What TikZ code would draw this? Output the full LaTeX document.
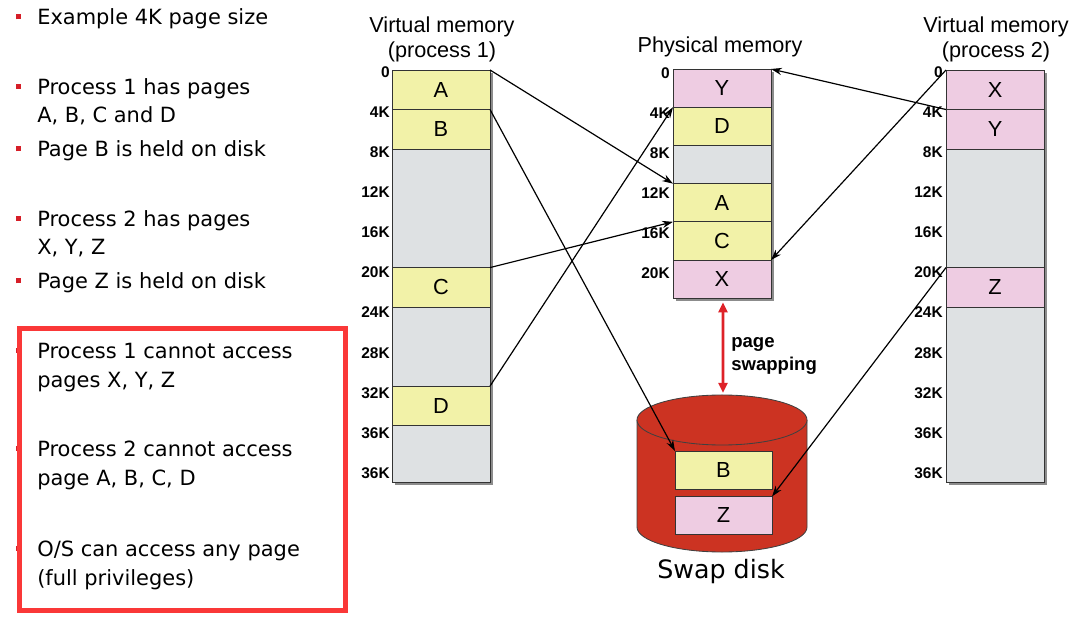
\documentclass[tikz,border=0pt]{standalone}
\usepackage{fontspec}
\setmainfont{Liberation Sans}
\newfontfamily\notefont{DejaVu Sans}
\usetikzlibrary{positioning,arrows.meta,backgrounds}

\definecolor{pageyellow}{RGB}{242,242,168}
\definecolor{pagepink}{RGB}{238,204,226}
\definecolor{pagegrey}{RGB}{222,225,227}
\definecolor{diskred}{RGB}{204,51,34}
\definecolor{swapred}{RGB}{222,34,40}
\definecolor{framered}{RGB}{250,56,56}
\definecolor{bulletred}{RGB}{214,30,40}

\tikzset{
  cell/.style={draw=black!80, line width=0.6pt, minimum width=2.45cm, minimum height=0.9875cm,
    inner sep=0pt, outer sep=0pt, font=\fontsize{15.5}{18}\selectfont},
  yel/.style={cell, fill=pageyellow},
  pink/.style={cell, fill=pagepink},
  free/.style={cell, fill=pagegrey},
  frame/.style={minimum height=0.955cm},
  tick/.style={anchor=east, inner sep=0pt, font=\fontsize{11}{12}\selectfont\bfseries},
  title/.style={align=center, inner sep=0pt, font=\fontsize{15.4}{17.8}\selectfont},
  map/.style={-{Stealth[length=0.27cm,width=0.18cm]}, line width=0.85pt},
  swaparrow/.style={{Triangle[length=0.25cm,width=0.22cm]}-{Triangle[length=0.25cm,width=0.22cm]},
    draw=swapred, line width=2.1pt},
  note/.style={anchor=base west, align=left, inner sep=0pt, font=\notefont\fontsize{14.9}{20.3}\selectfont},
  colshadow/.style={fill=black!45}
}
\newcommand{\bul}{\llap{{\color{bulletred}\rule[0.27em]{0.125cm}{0.125cm}}\hspace{0.4cm}}}

\begin{document}
\begin{tikzpicture}[x=0.025cm, y=-0.025cm]
\useasboundingbox (0,0) rectangle (1081,623);

% left hand notes (anchored on the last line)
\node[note] (n1) at (37,25) {\bul Example 4K page size};
\node[note] (n2) at (37,123) {\bul Process 1 has pages\\A, B, C and D};
\node[note] (n3) at (37,157) {\bul Page B is held on disk};
\node[note] (n4) at (37,255) {\bul Process 2 has pages\\X, Y, Z};
\node[note] (n5) at (37,289) {\bul Page Z is held on disk};
\node[note] (n6) at (37,387) {\bul Process 1 cannot access\\pages X, Y, Z};
\node[note] (n7) at (37,485) {\bul Process 2 cannot access\\page A, B, C, D};
\node[note] (n8) at (37,585) {\bul O/S can access any page\\(full privileges)};
\draw[framered, line width=3.55pt] (19.5,328.5) rectangle (345.5,610.5);

% virtual memory, process 1
\node[title, anchor=south] (v1title) at (442,62) {Virtual memory\\(process 1)};
\node[yel, anchor=north west] (p1A) at (392,70) {A};
\node[yel, below=0pt of p1A] (p1B) {B};
\node[free, below=0pt of p1B, minimum height=2.9625cm] (p1E1) {};
\node[yel, below=0pt of p1E1] (p1C) {C};
\node[free, below=0pt of p1C, minimum height=1.975cm] (p1E2) {};
\node[yel, below=0pt of p1E2] (p1D) {D};
\node[free, below=0pt of p1D, minimum height=1.4125cm] (p1E3) {};

% physical memory
\node[title, anchor=base] (phtitle) at (720,53) {Physical memory};
\node[pink, frame, anchor=north west] (phY) at (673,69) {Y};
\node[yel, frame, below=0pt of phY] (phD) {D};
\node[free, frame, below=0pt of phD] (phE) {};
\node[yel, frame, below=0pt of phE] (phA) {A};
\node[yel, frame, below=0pt of phA] (phC) {C};
\node[pink, frame, below=0pt of phC] (phX) {X};

% virtual memory, process 2
\node[title, anchor=south] (v2title) at (996,62) {Virtual memory\\(process 2)};
\node[pink, anchor=north west] (p2X) at (946,70) {X};
\node[pink, below=0pt of p2X] (p2Y) {Y};
\node[free, below=0pt of p2Y, minimum height=2.9625cm] (p2E1) {};
\node[pink, below=0pt of p2E1] (p2Z) {Z};
\node[free, below=0pt of p2Z, minimum height=4.375cm] (p2E2) {};

\begin{scope}[on background layer]
  \fill[colshadow] ([shift={(3,3)}]p1A.north west) rectangle ([shift={(3,3)}]p1E3.south east);
  \fill[colshadow] ([shift={(3,3)}]phY.north west) rectangle ([shift={(3,3)}]phX.south east);
  \fill[colshadow] ([shift={(3,3)}]p2X.north west) rectangle ([shift={(3,3)}]p2E2.south east);
\end{scope}

% address ticks
\foreach \lab [count=\i from 0] in {0,4K,8K,12K,16K,20K,24K,28K,32K,36K,36K} {
  \node[tick] (v1t\i) at (390,72+40.1*\i) {\lab};
  \node[tick] (v2t\i) at (943,72+40.1*\i) {\lab};
}
\foreach \lab [count=\i from 0] in {0,4K,8K,12K,16K,20K}
  \node[tick] (pht\i) at (670,73+40*\i) {\lab};

% swap disk
\fill[diskred] (637,420) rectangle (807,527);
\filldraw[fill=diskred, draw=black!75, line width=0.6pt] (637,420) -- (637,527)
  arc[start angle=180, end angle=360, x radius=2.125cm, y radius=0.625cm] -- (807,420);
\filldraw[fill=diskred, draw=black!75, line width=0.6pt] (722,420) ellipse[x radius=2.125cm, y radius=0.625cm];
\node[yel, minimum width=2.425cm, minimum height=0.95cm] (swB) at (723.5,470) {B};
\node[pink, minimum width=2.425cm, minimum height=0.95cm] (swZ) at (723.5,515.5) {Z};
\node[anchor=base, inner sep=0pt, font=\notefont\fontsize{18}{20}\selectfont] (swaplbl) at (721,578) {Swap disk};

\coordinate (disktop) at (723,393);
\draw[swaparrow] ([shift={(1,4)}]phX.south) -- (disktop);
\node[anchor=north west, align=left, inner sep=0pt, font=\bfseries\fontsize{13.2}{16.4}\selectfont] (swaptxt) at (731,337) {page\\swapping};

% page mappings
\draw[map] (p1A.north east) -- (phA.north west);
\draw[map] (p1B.north east) -- (swB.north west);
\draw[map] (p1C.north east) -- (phC.north west);
\draw[map] (p1D.north east) -- (phD.north west);
\draw[map] (p2Y.north west) -- (phY.north east);
\draw[map] (p2X.north west) -- (phX.north east);
\draw[map] (p2Z.north west) -- (swZ.north east);
\end{tikzpicture}
\end{document}
